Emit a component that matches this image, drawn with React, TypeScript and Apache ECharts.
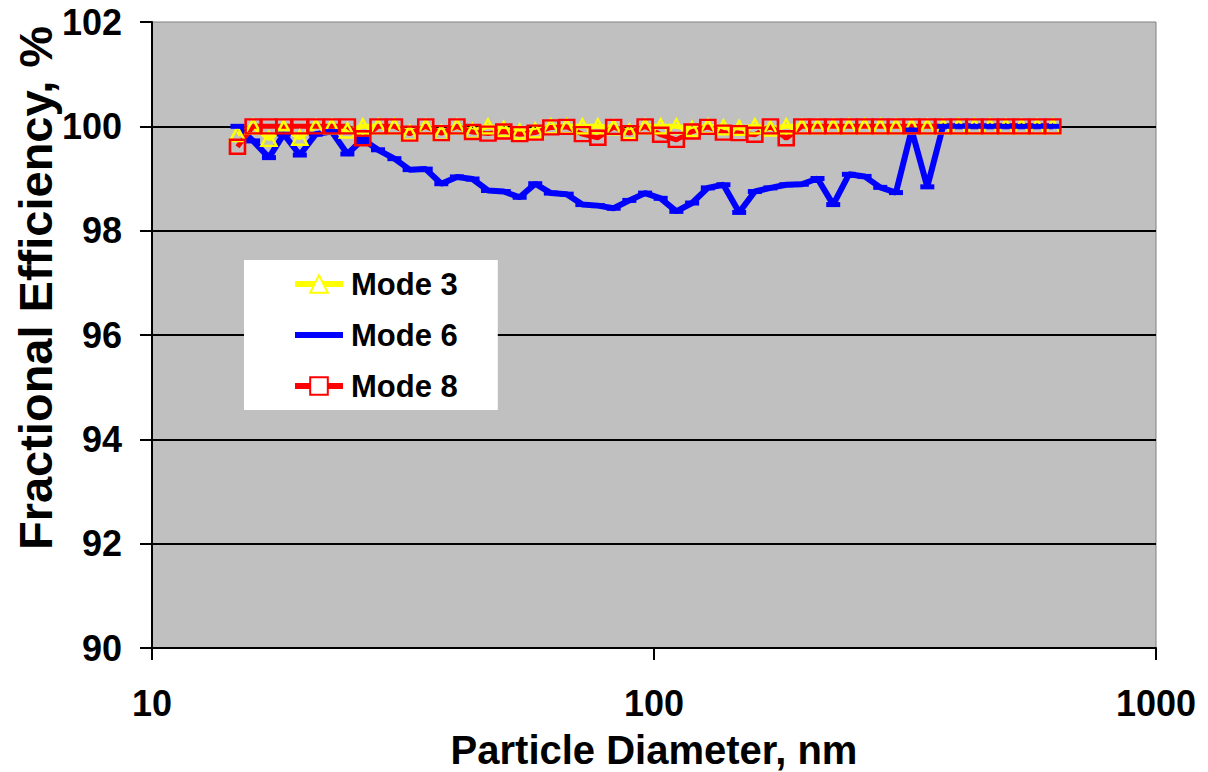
import React, { useEffect, useRef } from "react";
import * as echarts from "echarts";

// Particle diameters (nm)
const diameters = [
  14.8, 15.9, 17.1, 18.3, 19.7, 21.2, 22.8, 24.5, 26.3, 28.2,
  30.4, 32.6, 35.1, 37.7, 40.5, 43.5, 46.7, 50.2, 54.0, 58.0,
  62.3, 67.0, 72.0, 77.3, 83.1, 89.3, 96.0, 103.1, 110.8, 119.1,
  128.0, 137.5, 147.8, 158.8, 170.6, 183.4, 197.0, 211.7, 227.5, 244.5,
  262.7, 282.3, 303.4, 326.0, 350.3, 376.5, 404.6, 434.7, 467.2, 502.0,
  539.5, 579.7, 623.0,
];

const mode3 = [
  99.85, 100, 99.76, 99.97, 99.78, 100, 100, 99.92, 100, 100,
  100, 99.88, 100, 99.88, 100, 99.91, 100, 99.95, 99.9, 99.92,
  100, 100, 100, 100, 99.98, 99.9, 100, 100, 100, 99.95,
  100, 99.98, 99.97, 100, 99.96, 100, 100, 100, 100, 100,
  100, 100, 100, 100, 100, 100, 100, 100, 100, 100,
  100, 100, 100,
];

const mode6 = [
  100, 99.72, 99.4, 99.85, 99.45, 99.85, 99.9, 99.47, 99.75, 99.55,
  99.38, 99.17, 99.18, 98.9, 99.03, 98.99, 98.77, 98.75, 98.64, 98.9,
  98.72, 98.7, 98.5, 98.48, 98.43, 98.58, 98.72, 98.62, 98.37, 98.53,
  98.82, 98.88, 98.35, 98.75, 98.82, 98.88, 98.89, 99.0, 98.5, 99.08,
  99.04, 98.83, 98.73, 99.93, 98.84, 100, 100, 100, 100, 100,
  100, 100, 100,
];

const mode8 = [
  99.61, 100, 100, 100, 100, 100, 100, 100, 99.77, 100,
  100, 99.86, 100, 99.87, 100, 99.89, 99.86, 99.9, 99.85, 99.88,
  99.98, 99.99, 99.85, 99.78, 99.99, 99.87, 100, 99.84, 99.74, 99.9,
  99.99, 99.88, 99.87, 99.84, 100, 99.77, 100, 100, 100, 100,
  100, 100, 100, 100, 100, 100, 100, 100, 100, 100,
  100, 100, 100,
];

const seriesNames = ["Mode 3", "Mode 6", "Mode 8"];
const xTitle = "Particle Diameter, nm";
const yTitle = "Fractional Efficiency, %";

const FONT = "'Liberation Sans', Arial, Helvetica, sans-serif";

const YELLOW = "#ffff00";
const BLUE = "#0000ff";
const RED = "#ff0000";

export default function App() {
  const ref = useRef<HTMLDivElement>(null);

  useEffect(() => {
    if (!ref.current) return;
    const chart = echarts.init(ref.current, undefined, { renderer: "svg" });
    const pair = (vals: number[]) => diameters.map((d, i) => [d, vals[i]]);

    chart.setOption({
      animation: false,
      backgroundColor: "#ffffff",
      textStyle: { fontFamily: FONT },
      grid: {
        left: 152,
        right: 52,
        top: 22,
        bottom: 124,
        show: true,
        backgroundColor: "#c0c0c0",
        borderColor: "#808080",
        borderWidth: 1,
      },
      xAxis: {
        type: "log",
        logBase: 10,
        min: 10,
        max: 1000,
        axisLine: { show: true, onZero: false, lineStyle: { color: "#000", width: 2 } },
        axisTick: { show: true, inside: false, length: 12, lineStyle: { color: "#000", width: 2 } },
        minorTick: { show: false },
        splitLine: { show: false },
        axisLabel: {
          color: "#000",
          fontSize: 36,
          fontWeight: "bold",
          fontFamily: FONT,
          margin: 37,
          formatter: (v: number) => String(Math.round(v)),
        },
      },
      yAxis: {
        type: "value",
        min: 90,
        max: 102,
        interval: 2,
        axisLine: { show: true, lineStyle: { color: "#000", width: 2 } },
        axisTick: { show: true, inside: false, length: 12, lineStyle: { color: "#000", width: 2 } },
        splitLine: { show: true, showMaxLine: false, lineStyle: { color: "#000", width: 2 } },
        axisLabel: {
          color: "#000",
          fontSize: 36,
          fontWeight: "bold",
          fontFamily: FONT,
          margin: 30,
        },
      },
      legend: {
        orient: "vertical",
        left: 244,
        top: 260,
        padding: [6, 40, 6, 48],
        backgroundColor: "#ffffff",
        itemWidth: 48,
        itemHeight: 22,
        itemGap: 15,
        data: [
          {
            name: seriesNames[0],
            lineStyle: { width: 6 },
            itemStyle: { opacity: 1, color: "#ffffff", borderColor: YELLOW, borderWidth: 2 },
          },
          {
            name: seriesNames[1],
            lineStyle: { width: 6 },
            itemStyle: { opacity: 0, color: "transparent", borderWidth: 0 },
          },
          {
            name: seriesNames[2],
            lineStyle: { width: 6 },
            itemStyle: { opacity: 1, color: "#ffffff", borderColor: RED, borderWidth: 2 },
          },
        ],
        textStyle: {
          color: "#000",
          fontSize: 31,
          fontWeight: "bold",
          fontFamily: FONT,
          lineHeight: 36,
          padding: [0, 0, 0, 3],
        },
      },
      graphic: [
        {
          type: "text",
          x: 35,
          y: 288,
          rotation: Math.PI / 2,
          style: {
            text: yTitle,
            fill: "#000",
            font: `bold 47px ${FONT}`,
            align: "center",
            verticalAlign: "middle",
          },
        },
        {
          type: "text",
          x: 654,
          y: 750,
          style: {
            text: xTitle,
            fill: "#000",
            font: `bold 40px ${FONT}`,
            align: "center",
            verticalAlign: "middle",
          },
        },
      ],
      series: [
        // lines first (all series), markers drawn afterwards on top, as in the original
        {
          name: seriesNames[0],
          type: "line",
          data: pair(mode3),
          symbol: "triangle",
          symbolSize: [15, 14],
          showSymbol: true,
          lineStyle: { color: YELLOW, width: 5 },
          itemStyle: { color: YELLOW, opacity: 0 },
          z: 2,
        },
        {
          name: seriesNames[1],
          type: "line",
          data: pair(mode6),
          symbol: "rect",
          symbolSize: [14, 5],
          showSymbol: true,
          lineStyle: { color: BLUE, width: 6 },
          itemStyle: { color: BLUE, opacity: 0 },
          z: 2,
        },
        {
          name: seriesNames[2],
          type: "line",
          data: pair(mode8),
          symbol: "rect",
          symbolSize: [15, 14],
          showSymbol: true,
          lineStyle: { color: RED, width: 5 },
          itemStyle: { color: RED, opacity: 0 },
          z: 2,
        },
        {
          name: "Mode 3 markers",
          type: "scatter",
          data: pair(mode3),
          symbol: "triangle",
          symbolSize: [15, 14],
          itemStyle: { color: "transparent", borderColor: YELLOW, borderWidth: 2.5, opacity: 1 },
          z: 3,
        },
        {
          name: "Mode 6 markers",
          type: "scatter",
          data: pair(mode6),
          symbol: "rect",
          symbolSize: [14, 5],
          itemStyle: { color: BLUE, opacity: 1 },
          z: 4,
        },
        {
          name: "Mode 8 markers",
          type: "scatter",
          data: pair(mode8),
          symbol: "rect",
          symbolSize: [15, 14],
          itemStyle: { color: "transparent", borderColor: RED, borderWidth: 2.5, opacity: 1 },
          z: 5,
        },
      ],
    });

    return () => chart.dispose();
  }, []);

  return (
    <div
      ref={ref}
      style={{ position: "absolute", left: 0, top: 0, width: 1208, height: 772 }}
    />
  );
}
